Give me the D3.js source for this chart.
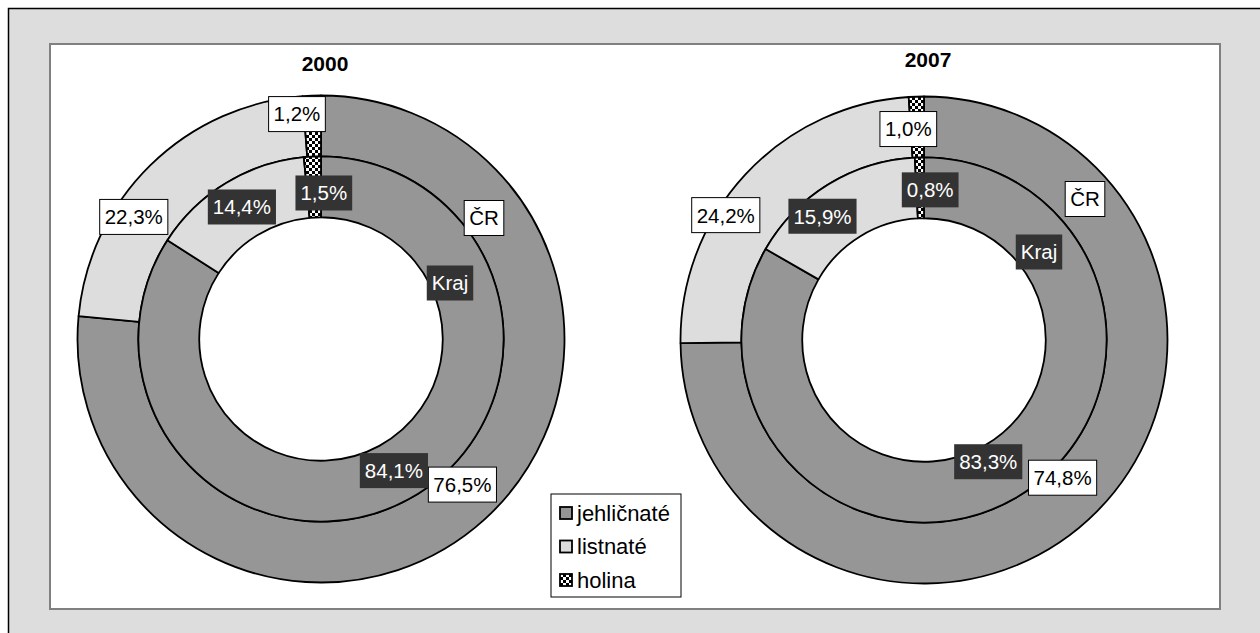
<!DOCTYPE html>
<html>
<head>
<meta charset="utf-8">
<script src="https://cdn.jsdelivr.net/npm/d3@7"></script>
<style>
  body { margin: 0; background: #fff; }
  svg { display: block; font-family: "Liberation Sans", Arial, sans-serif; }
</style>
</head>
<body>
<svg id="chart"></svg>
<script>
// data
const categories = ["jehličnaté", "listnaté", "holina"];
const years = ["2000", "2007"];
const kraj2000 = [84.1, 14.4, 1.5];
const cr2000 = [76.5, 22.3, 1.2];
const kraj2007 = [83.3, 15.9, 0.8];
const cr2007 = [74.8, 24.2, 1.0];

// hand-moved labels (pixels away from the slice centroid), like in the original sheet
const nudge2000 = { kraj: [[0, -2], [0, -2], [10, 6]], cr: [[-2, -12], [-38, 30], [-16, -12]] };
const nudge2007 = { kraj: [[-12, -10], [-22, 6], [10, 2]], cr: [[-13, -12], [-42, 20], [-9, 2]] };

const W = 1260, H = 633;
const R = 243.5;

const svg = d3.select("#chart").attr("width", W).attr("height", H);

// checker pattern for "holina"
const defs = svg.append("defs");
const pat = defs.append("pattern")
  .attr("id", "checker")
  .attr("width", 6).attr("height", 6)
  .attr("patternUnits", "userSpaceOnUse");
pat.append("rect").attr("width", 6).attr("height", 6).attr("fill", "#000");
pat.append("rect").attr("width", 3).attr("height", 3).attr("fill", "#fff");
pat.append("rect").attr("x", 3).attr("y", 3).attr("width", 3).attr("height", 3).attr("fill", "#fff");

const color = d3.scaleOrdinal()
  .domain(categories)
  .range(["#969696", "#dddddd", "url(#checker)"]);

// frame + plot area
svg.append("rect")
  .attr("x", 8.5).attr("y", 8.5)
  .attr("width", W).attr("height", H)
  .attr("fill", "#dddddd").attr("stroke", "#000").attr("stroke-width", 1.5);

svg.append("rect")
  .attr("x", 50).attr("y", 44)
  .attr("width", 1170).attr("height", 565)
  .attr("fill", "#fff").attr("stroke", "#808080").attr("stroke-width", 2);

const pie = d3.pie().sort(null).value(d => d);
const fmt = v => d3.format(".1f")(v).replace(".", ",") + "%";

function label(g, x, y, txt, dark) {
  const lg = g.append("g").attr("transform", `translate(${x},${y})`);
  const r = lg.append("rect");
  const t = lg.append("text")
    .attr("text-anchor", "middle")
    .attr("dy", "0.36em")
    .attr("font-size", 20.5)
    .attr("fill", dark ? "#fff" : "#000")
    .text(txt);
  const bb = t.node().getBBox();
  const w = bb.width + 10, h = 35;
  r.attr("x", -w / 2).attr("y", -h / 2)
    .attr("width", w).attr("height", h)
    .attr("fill", dark ? "#333333" : "#fff")
    .attr("stroke", dark ? "none" : "#000")
    .attr("stroke-width", 1);
}

function donut(cx, cy, title, titleY, krajVals, crVals, nudge, crPos, krajPos) {
  const g = svg.append("g").attr("transform", `translate(${cx},${cy})`);
  const rIn = R * 0.5, rMid = R * 0.75;

  const rings = [
    { vals: crVals, arc: d3.arc().innerRadius(rMid).outerRadius(R), key: "cr", dark: false },
    { vals: krajVals, arc: d3.arc().innerRadius(rIn).outerRadius(rMid), key: "kraj", dark: true }
  ];

  rings.forEach(ring => {
    g.append("g").selectAll("path")
      .data(pie(ring.vals))
      .join("path")
      .attr("d", ring.arc)
      .attr("fill", (d, i) => color(categories[i]))
      .attr("stroke", "#000")
      .attr("stroke-width", 1.8)
      .attr("stroke-linejoin", "round");
  });

  rings.forEach(ring => {
    pie(ring.vals).forEach((d, i) => {
      const c = ring.arc.centroid(d);
      const n = nudge[ring.key][i];
      label(g, c[0] + n[0], c[1] + n[1], fmt(d.data), ring.dark);
    });
  });

  // series names
  label(g, crPos[0], crPos[1], "ČR", false);
  label(g, krajPos[0], krajPos[1], "Kraj", true);

  svg.append("text")
    .attr("x", cx + 4).attr("y", titleY)
    .attr("text-anchor", "middle")
    .attr("font-size", 21).attr("font-weight", "bold")
    .text(title);
}

donut(321, 339, years[0], 71, kraj2000, cr2000, nudge2000, [163, -121], [129, -56]);
donut(924, 340, years[1], 67, kraj2007, cr2007, nudge2007, [161, -141], [115, -88]);

// legend
const lg = svg.append("g").attr("transform", "translate(551,494)");
lg.append("rect")
  .attr("width", 130).attr("height", 103)
  .attr("fill", "#fff").attr("stroke", "#000").attr("stroke-width", 1);

const ly = d3.scalePoint().domain(categories).range([19, 86]);
const item = lg.selectAll("g.item")
  .data(categories)
  .join("g")
  .attr("class", "item")
  .attr("transform", d => `translate(9,${ly(d)})`);
item.append("rect")
  .attr("x", 0).attr("y", -6)
  .attr("width", 12).attr("height", 12)
  .attr("fill", d => color(d))
  .attr("stroke", "#000").attr("stroke-width", 1.8);
item.append("text")
  .attr("x", 17).attr("dy", "0.36em")
  .attr("font-size", 22)
  .text(d => d);
</script>
</body>
</html>
